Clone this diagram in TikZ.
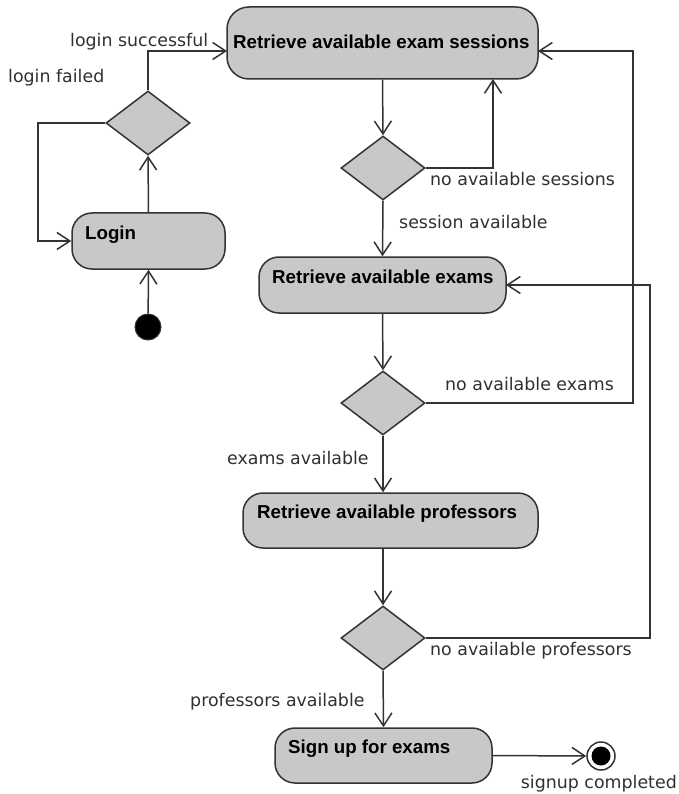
\documentclass[tikz,border=0pt]{standalone}
\usepackage{fontspec}
\setmainfont{DejaVu Sans}
\newfontfamily\boxfont{Liberation Sans}
\usetikzlibrary{arrows.meta,shapes.geometric}
\definecolor{linec}{HTML}{333333}
\definecolor{fillc}{HTML}{C8C8C8}
\definecolor{textc}{HTML}{303030}
\tikzset{
  actbox/.style={draw=linec, line width=1.5pt, fill=fillc, rounded corners=20pt, inner sep=0pt},
  boxtext/.style={anchor=west, inner sep=0pt, font=\boxfont\bfseries\fontsize{18.7pt}{20pt}\selectfont, text=black, text height=13pt, text depth=4pt},
  decision/.style={draw=linec, line width=1.5pt, fill=fillc, diamond, minimum width=84pt, minimum height=64pt, inner sep=0pt},
  lbl/.style={anchor=west, inner sep=0pt, font=\fontsize{17.4pt}{19pt}\selectfont, text=textc, text height=13pt, text depth=4pt},
  arr/.style={draw=linec, line width=1.5pt, -{Straight Barb[length=13pt,width=17pt,line width=1.5pt]}},
}
\begin{document}
\begin{tikzpicture}[x=1pt,y=-1pt]
\useasboundingbox (0,0) rectangle (679,794);
% activity boxes
\node[actbox, minimum width=153pt, minimum height=56pt] (login) at (148.5,241) {};
\node[actbox, minimum width=311pt, minimum height=72pt, rounded corners=22pt] (sess) at (382.5,43) {};
\node[actbox, minimum width=247pt, minimum height=56pt] (exams) at (382.5,285) {};
\node[actbox, minimum width=295pt, minimum height=55pt] (prof) at (390.5,520.5) {};
\node[actbox, minimum width=217pt, minimum height=55pt] (sign) at (383.5,755.5) {};
% box texts
\node[boxtext] (loginT) at (85,235) {Login};
\node[boxtext] (sessT) at (233,44) {Retrieve available exam sessions};
\node[boxtext] (examsT) at (272,279) {Retrieve available exams};
\node[boxtext] (profT) at (257,514) {Retrieve available professors};
\node[boxtext] (signT) at (288,749) {Sign up for exams};
% decisions
\node[decision] (d1) at (148,123) {};
\node[decision] (d2) at (383,168) {};
\node[decision] (d3) at (383,403) {};
\node[decision] (d4) at (383,638) {};
% start and end
\node[circle, fill=black, draw=linec, line width=1pt, minimum size=26pt, inner sep=0pt] (start) at (148,327) {};
\node[circle, fill=white, draw=linec, line width=1.5pt, minimum size=28pt, inner sep=0pt] (final) at (601,756) {};
\node[circle, fill=black, minimum size=19pt, inner sep=0pt] (finalIn) at (final) {};
% helper coordinates
\coordinate (c1) at (38,123);
\coordinate (c2) at (148,51);
\coordinate (sessIn) at (227,51);
\coordinate (sessB) at (493,79);
\coordinate (c3) at (633,403);
\coordinate (sessR) at (538,51);
\coordinate (c4) at (650,638);
\coordinate (examsR) at (506,285);
% connectors
\draw[arr] (start) -- (login.south);
\draw[arr] (login.north) -- (d1.south);
\draw[arr] (d1.west) -- (c1) |- (login.west);
\draw[arr] (d1.north) -- (c2) -- (sessIn);
\draw[arr] (sess.south) -- (d2.north);
\draw[arr] (d2.east) -| (sessB);
\draw[arr] (d2.south) -- (exams.north);
\draw[arr] (exams.south) -- (d3.north);
\draw[arr] (d3.east) -- (c3) |- (sessR);
\draw[arr] (d3.south) -- (d3.south |- prof.north);
\draw[arr] (prof.south -| d4.north) -- (d4.north);
\draw[arr] (d4.east) -- (c4) |- (examsR);
\draw[arr] (d4.south) -- (sign.north);
\draw[arr] (sign.east) -- (final.west);
% labels
\node[lbl] (l1) at (70,42) {login successful};
\node[lbl] (l2) at (8,78) {login failed};
\node[lbl] (l3) at (430,181) {no available sessions};
\node[lbl] (l4) at (399,224) {session available};
\node[lbl] (l5) at (445,386) {no available exams};
\node[lbl] (l6) at (227,460) {exams available};
\node[lbl] (l7) at (430,651) {no available professors};
\node[lbl] (l8) at (190,702) {professors available};
\node[lbl, anchor=east] (l9) at (677,784) {signup completed};
\end{tikzpicture}
\end{document}
